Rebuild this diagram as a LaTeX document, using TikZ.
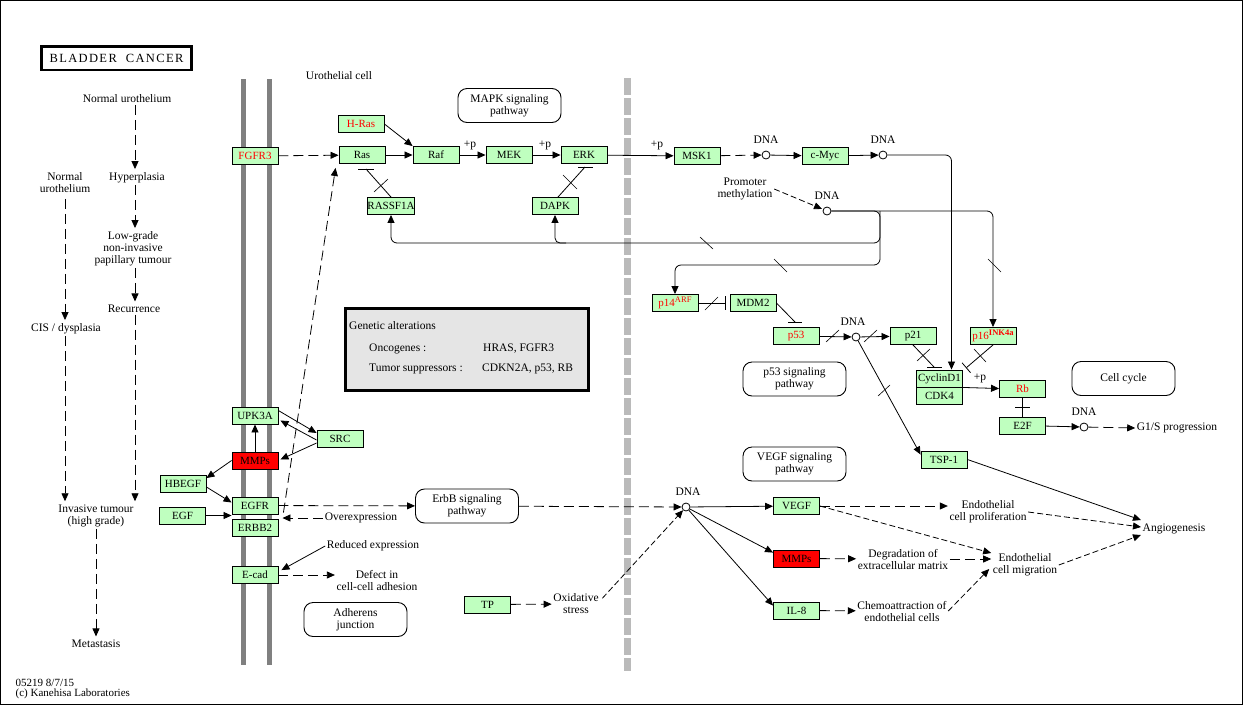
\documentclass[tikz,border=0pt]{standalone}
\usepackage{fontspec}
\setmainfont{Liberation Serif}
\newfontfamily\titlefont[LetterSpace=11]{Liberation Serif}
\usetikzlibrary{arrows.meta}

\definecolor{genegreen}{RGB}{191,255,191}
\definecolor{kred}{RGB}{255,0,0}

\newcommand{\supx}[1]{\raisebox{3.5pt}{\fontsize{8.5}{9}\selectfont #1}}

\tikzset{
  gene/.style={draw, fill=genegreen, line width=0.9pt, minimum width=46pt, minimum height=17pt,
    inner sep=0pt, font=\fontsize{11}{12}\selectfont},
  redgene/.style={gene, text=kred},
  mmp/.style={gene, fill=kred},
  lbl/.style={align=center, inner sep=1.5pt, font=\fontsize{11.5}{12}\selectfont},
  pathbox/.style={draw, rounded corners=9pt, line width=0.9pt, fill=white, minimum width=103pt,
    minimum height=34pt, align=center, font=\fontsize{11.5}{12}\selectfont},
  dna/.style={circle, draw, fill=white, line width=0.8pt, minimum size=8pt, inner sep=0pt},
  dnalbl/.style={lbl, label distance=5pt},
  act/.style={line width=0.8pt, -{Triangle[length=8pt,width=7pt]}},
  ind/.style={act, dash pattern=on 10pt off 5pt},
  indd/.style={act, dash pattern=on 6pt off 3pt},
  inh/.style={line width=0.8pt},
  cut/.style={line width=0.6pt}
}

\begin{document}
\begin{tikzpicture}[x=1pt,y=-1pt]
\useasboundingbox (0,0) rectangle (1243,705);
\draw[line width=1pt] (0.5,0.5) rectangle (1242.5,704.5);

% membrane and nuclear envelope
\fill[black!50] (240.5,79) rectangle (245.5,665);
\fill[black!50] (266.5,79) rectangle (271.5,665);
\draw[black!27, line width=7pt, dash pattern=on 17pt off 3pt] (627,78) -- (627,671);

% title
\node[draw, line width=2.5pt, minimum width=150pt, minimum height=23.5pt, inner sep=0pt,
  font=\fontsize{12.5}{13}\titlefont] (title) at (116.5,58) {BLADDER\ \ CANCER};

% progression of the disease
\node[lbl] (normA) at (127,99) {Normal urothelium};
\node[lbl] (hyper) at (137,178) {Hyperplasia};
\node[lbl] (normB) at (65,183) {Normal\\urothelium};
\node[lbl] (lowgr) at (133,249) {Low-grade\\non-invasive\\papillary tumour};
\node[lbl] (recur) at (134,309) {Recurrence};
\node[lbl] (cis) at (66,329) {CIS / dysplasia};
\node[lbl] (invas) at (96,516) {Invasive tumour\\(high grade)};
\node[lbl] (metas) at (96,644) {Metastasis};
\coordinate (colA) at (65,0);
\coordinate (colB) at (135,0);
\draw[ind, shorten >=2pt] (normA.south -| colB) -- (hyper.north -| colB);
\draw[ind, shorten >=2pt] (hyper.south -| colB) -- (lowgr.north -| colB);
\draw[ind, shorten >=2pt] (lowgr.south -| colB) -- (recur.north -| colB);
\draw[ind, shorten >=2pt] (recur.south -| colB) -- (invas.north -| colB);
\draw[ind, shorten <=4pt, shorten >=2pt] (normB.south -| colA) -- (cis.north -| colA);
\draw[ind, shorten >=2pt] (cis.south -| colA) -- (invas.north -| colA);
\draw[ind, shorten >=2pt] (invas) -- (metas);

\node[lbl, anchor=west, align=left, font=\fontsize{11}{10.5}\selectfont] (stamp) at (14,689)
  {05219 8/7/15\\(c) Kanehisa Laboratories};

% genetic alterations
\draw[line width=3pt, fill=black!10] (345.5,308.5) rectangle (588.5,390.5);
\node[lbl, anchor=west] (genalt) at (347.5,326) {Genetic alterations};
\node[lbl, anchor=west] (onco) at (367.5,349) {Oncogenes :};
\node[lbl, anchor=west] (oncol) at (481.5,349) {HRAS, FGFR3};
\node[lbl, anchor=west] (supp) at (367.5,369) {Tumor suppressors :};
\node[lbl, anchor=west] (suppl) at (480.5,369) {CDKN2A, p53, RB};

% pathway links
\node[pathbox] (mapk) at (509.5,105.5) {MAPK signaling\\pathway};
\node[pathbox] (p53path) at (794.5,379) {p53 signaling\\pathway};
\node[pathbox] (vegfpath) at (794.5,464) {VEGF signaling\\pathway};
\node[pathbox] (cellcyc) at (1123.5,378.5) {Cell cycle};
\node[pathbox] (erbbpath) at (467,506) {ErbB signaling\\pathway};
\node[pathbox] (adher) at (355.5,619.5) {Adherens\\junction};

% genes
\node[redgene] (fgfr) at (255,156) {FGFR3};
\node[redgene] (hras) at (361,124) {H-Ras};
\node[gene] (ras) at (362,155) {Ras};
\node[gene] (raf) at (436,155) {Raf};
\node[gene] (mek) at (509,155) {MEK};
\node[gene] (erk) at (584,155) {ERK};
\node[gene] (rassf) at (391,206) {RASSF1A};
\node[gene] (dapk) at (555,206) {DAPK};
\node[gene] (msk) at (697,156) {MSK1};
\node[gene] (cmyc) at (825,156) {c-Myc};
\node[redgene] (p14) at (675,303) {p14\supx{ARF}};
\node[gene] (mdm) at (753,303) {MDM2};
\node[redgene] (p53) at (796,336) {p53};
\node[gene] (p21) at (913,336) {p21};
\node[redgene] (p16) at (993,336) {p16\supx{\textbf{INK4a}}};
\node[gene] (cyc) at (939.5,378.5) {CyclinD1};
\node[gene] (cdk) at (939.5,395.5) {CDK4};
\node[redgene] (rb) at (1022.5,388.5) {Rb};
\node[gene] (e2f) at (1022.5,425.5) {E2F};
\node[gene] (tsp) at (944,459.5) {TSP-1};
\node[gene] (upk) at (255,415.5) {UPK3A};
\node[mmp] (mmpL) at (255,460.5) {MMPs};
\node[gene] (src) at (340,439) {SRC};
\node[gene] (hbegf) at (183,484) {HBEGF};
\node[gene] (egf) at (182.5,515.5) {EGF};
\node[gene] (egfr) at (255,505.5) {EGFR};
\node[gene] (erbb) at (255,527.5) {ERBB2};
\node[gene] (ecad) at (255,575) {E-cad};
\node[gene] (vegf) at (796.5,506) {VEGF};
\node[mmp] (mmpR) at (796.5,558.5) {MMPs};
\node[gene] (il8) at (796.5,610.5) {IL-8};
\node[gene] (tp) at (487.5,604.5) {TP};

% DNA
\node[dna, label={[dnalbl]above:DNA}] (dnaA) at (766,155) {};
\node[dna, label={[dnalbl]above:DNA}] (dnaB) at (883,155) {};
\node[dna, label={[dnalbl]above:DNA}] (dnaC) at (827,211) {};
\node[dna, label={[dnalbl, xshift=-3pt]above:DNA}] (dnaD) at (856,337) {};
\node[dna, label={[dnalbl]above:DNA}] (dnaE) at (1084,427) {};
\node[dna, label={[dnalbl, xshift=2pt]above:DNA}] (dnaF) at (686,507) {};

% other labels
\node[lbl] (urocell) at (339,76) {Urothelial cell};
\node[lbl] (promo) at (745,189) {Promoter\\methylation};
\node[lbl] (g1s) at (1177,428) {G1/S progression};
\node[lbl] (angio) at (1174,529) {Angiogenesis};
\node[lbl] (prolif) at (988,512) {Endothelial\\cell proliferation};
\node[lbl] (migr) at (1025,565) {Endothelial\\cell migration};
\node[lbl] (degr) at (903,559) {Degradation of\\extracellular matrix};
\node[lbl] (chemo) at (902,611) {Chemoattraction of\\endothelial cells};
\node[lbl] (oxid) at (576,604) {Oxidative\\stress};
\node[lbl] (overx) at (361,518) {Overexpression};
\node[lbl] (redx) at (373,546) {Reduced expression};
\node[lbl] (defect) at (377,580) {Defect in\\cell-cell adhesion};
\node[lbl] (pA) at (470,145) {+p};
\node[lbl] (pB) at (545,145) {+p};
\node[lbl] (pC) at (657,145) {+p};
\node[lbl] (pD) at (980,378) {+p};

% MAPK part
\draw[ind] (fgfr) -- (ras);
\draw[act] (hras.east) -- (raf.north west);
\draw[act] (ras) -- (raf);
\draw[act] (raf) -- (mek);
\draw[act] (mek) -- (erk);
\draw[act] (erk) -- (msk);
\draw[ind] (msk) -- (dnaA);
\draw[act] (dnaA) -- (cmyc);
\draw[act] (cmyc) -- (dnaB);
\draw[act, rounded corners=6pt] (dnaB) -| ([xshift=12pt]cyc.north);

\coordinate (rasbar) at (366,169);
\coordinate (erkbar) at (585,167);
\draw[inh] (rassf.north) -- (rasbar);
\draw[inh] ([xshift=-8pt]rasbar) -- ([xshift=8pt]rasbar);
\draw[inh] ([xshift=3pt]dapk.north) -- (erkbar);
\draw[inh] ([xshift=-7pt]erkbar) -- ([xshift=8pt]erkbar);

% methylated promoters
\coordinate (jtop) at (880,211);
\coordinate (jmid) at (880,243);
\coordinate (jbot) at (880,265);
\coordinate (jdapk) at (566,243);
\draw[indd, shorten >=1pt] (promo.east) -- (dnaC);
\draw[act, rounded corners=6pt] (dnaC) -| (p16.north);
\draw[act, rounded corners=6pt] (dnaC) -- (jtop) -- (jbot) -| (p14.north);
\draw[act, rounded corners=6pt] (jtop) -- (jmid) -| (rassf.south);
\draw[act, rounded corners=5pt] (jdapk) -| (dapk.south);

% p53 and Rb part
\coordinate (p53bar) at (795,322);
\coordinate (cycbar) at (934,367);
\coordinate (cdkbar) at (966,368);
\draw[inh, -{Bar[width=14pt]}, shorten >=4pt] (p14) -- (mdm);
\draw[inh] (mdm.east) -- (p53bar);
\draw[inh] ([xshift=-7pt]p53bar) -- ([xshift=7pt]p53bar);
\draw[act] (p53) -- (dnaD);
\draw[act] (dnaD) -- (p21);
\draw[act] (dnaD) -- ([yshift=-4pt]tsp.north west);
\draw[inh] (p21.south) -- (cycbar);
\draw[inh] ([xshift=-7pt]cycbar) -- ([xshift=8pt]cycbar);
\draw[inh, -{Bar[width=13pt]}] (p16.south) -- (cdkbar);
\draw[act] (cyc.south east) -- (rb.west);
\draw[inh] (rb) -- (e2f);
\draw[inh] (1015,407) -- (1030,407);
\draw[act] (e2f) -- (dnaE);
\draw[ind] (dnaE) -- (g1s.west);

% crossing marks
\draw[cut] (700,237) -- (713,249);
\draw[cut] (774,259) -- (787,272);
\draw[cut] (988,259) -- (1001,272);
\draw[cut] (705,310) -- (718,297);
\draw[cut] (826,342) -- (839,330);
\draw[cut] (864,342) -- (877,330);
\draw[cut] (878,396) -- (890,385);
\draw[cut] (374,192) -- (388,179);
\draw[cut] (563,175) -- (577,189);
\draw[cut] (917,361) -- (930,349);
\draw[cut] (974,349) -- (986,362);

% angiogenesis
\draw[act] (tsp.east) -- ([yshift=9pt]angio.west);
\draw[indd] (prolif.east) -- ([yshift=2pt]angio.west);
\draw[indd] (migr.east) -- ([yshift=-6pt]angio.west);
\draw[ind] (vegf.east) -- (vegf.east -| prolif.west);
\draw[indd] (vegf.east) -- ([yshift=12pt]migr.west);
\draw[act] (dnaF) -- (vegf);
\draw[act] (dnaF) -- ([yshift=-3pt]mmpR.north west);
\draw[act] (dnaF) -- ([yshift=-4pt]il8.north west);
\draw[ind] (mmpR) -- (degr);
\draw[ind] (degr.east) -- ([yshift=6pt]migr.west);
\draw[ind] (il8) -- (chemo);
\draw[indd] (chemo.east) -- ([xshift=-2pt,yshift=-4pt]migr.west);
\draw[ind] (erbbpath) -- (dnaF);
\draw[indd] ([xshift=2pt,yshift=-6pt]oxid.north east) -- (dnaF);
\draw[ind] (tp) -- (oxid);

% membrane receptors
\draw[ind] (egfr) -- (erbbpath);
\draw[ind, shorten >=4pt] (overx.west) -- (overx.west -| erbb.east);
\draw[ind] ([xshift=5pt,yshift=6pt]erbb.north east) -- ([xshift=-3pt,yshift=-4pt]ras.south west);
\draw[act] (redx.west) -- ([xshift=3pt,yshift=-4pt]ecad.north east);
\draw[ind] (ecad) -- (ecad.east -| defect.west);
\draw[act] (mmpL) -- (upk);
\draw[act] ([yshift=-4pt]upk.north east) -- ([yshift=6pt]src.west);
\draw[act] ([yshift=-1pt]src.west) -- ([xshift=2pt,yshift=-5pt]upk.east);
\draw[act] ([yshift=-4pt]src.west) -- ([xshift=2pt,yshift=1pt]mmpL.east);
\draw[act] (mmpL.west) -- ([yshift=-3pt]hbegf.north east);
\draw[act] ([yshift=-3pt]hbegf.east) -- ([yshift=3pt]egfr.west);
\draw[act] (egf) -- (egf -| egfr.west);
\end{tikzpicture}
\end{document}
